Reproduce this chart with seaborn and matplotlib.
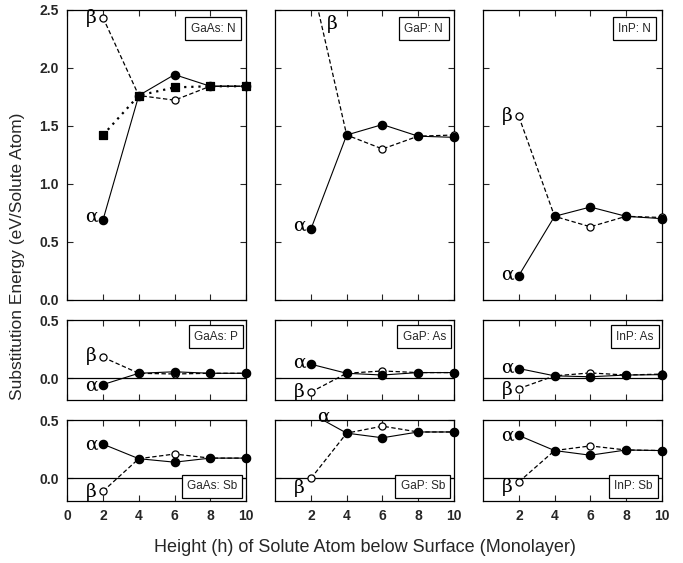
import numpy as np
import matplotlib
matplotlib.use("Agg")
import matplotlib.pyplot as plt
import seaborn as sns

# --- Data ---
heights = [2, 4, 6, 8, 10]

gaas_n_alpha = [0.69, 1.76, 1.94, 1.84, 1.84]
gaas_n_beta = [2.43, 1.76, 1.72, 1.84, 1.84]
gaas_n_square = [1.42, 1.76, 1.83, 1.84, 1.84]
gap_n_alpha = [0.61, 1.42, 1.51, 1.41, 1.40]
gap_n_beta = [2.77, 1.42, 1.30, 1.41, 1.42]
inp_n_alpha = [0.21, 0.72, 0.80, 0.72, 0.70]
inp_n_beta = [1.58, 0.72, 0.63, 0.72, 0.71]

gaas_p_alpha = [-0.055, 0.042, 0.055, 0.042, 0.042]
gaas_p_beta = [0.18, 0.042, 0.036, 0.042, 0.042]
gap_as_alpha = [0.12, 0.042, 0.027, 0.048, 0.048]
gap_as_beta = [-0.12, 0.042, 0.062, 0.048, 0.048]
inp_as_alpha = [0.083, 0.02, 0.012, 0.027, 0.03]
inp_as_beta = [-0.09, 0.02, 0.045, 0.027, 0.035]

gaas_sb_alpha = [0.295, 0.17, 0.14, 0.175, 0.175]
gaas_sb_beta = [-0.11, 0.17, 0.21, 0.175, 0.175]
gap_sb_alpha = [0.56, 0.39, 0.35, 0.40, 0.40]
gap_sb_beta = [0.0, 0.39, 0.45, 0.40, 0.40]
inp_sb_alpha = [0.37, 0.24, 0.20, 0.245, 0.24]
inp_sb_beta = [-0.03, 0.24, 0.28, 0.245, 0.24]

panel_names = ["GaAs: N", "GaP: N", "InP: N",
               "GaAs: P", "GaP: As", "InP: As",
               "GaAs: Sb", "GaP: Sb", "InP: Sb"]
alpha_series = [gaas_n_alpha, gap_n_alpha, inp_n_alpha,
                gaas_p_alpha, gap_as_alpha, inp_as_alpha,
                gaas_sb_alpha, gap_sb_alpha, inp_sb_alpha]
beta_series = [gaas_n_beta, gap_n_beta, inp_n_beta,
               gaas_p_beta, gap_as_beta, inp_as_beta,
               gaas_sb_beta, gap_sb_beta, inp_sb_beta]

# --- Style ---
sns.set_style("ticks")
plt.rcParams["font.family"] = ["Liberation Sans", "DejaVu Sans"]
plt.rcParams["xtick.direction"] = "in"
plt.rcParams["ytick.direction"] = "in"

fig = plt.figure(figsize=(6.83, 5.63), dpi=100)
gs = fig.add_gridspec(3, 3, height_ratios=[2.5, 0.69, 0.69],
                      left=0.0985, right=0.969, top=0.983, bottom=0.111,
                      wspace=0.163, hspace=0.134)

greek = dict(fontsize=13.5, family=["DejaVu Serif"], color="k")

# label positions for the alpha / beta tags (x, y) per panel
alpha_pos = [(1.35, 0.72), (1.35, 0.64), (1.35, 0.22),
             (1.35, -0.06), (1.35, 0.13), (1.35, 0.09),
             (1.35, 0.29), (2.7, 0.535), (1.35, 0.37)]
beta_pos = [(1.35, 2.43), (3.2, 2.38), (1.35, 1.58),
            (1.35, 0.19), (1.35, -0.12), (1.35, -0.10),
            (1.35, -0.12), (1.35, -0.08), (1.35, -0.07)]
box_pos = [(0.94, 0.955, "top"), (0.94, 0.955, "top"), (0.94, 0.955, "top"),
           (0.955, 0.87, "top"), (0.955, 0.87, "top"), (0.955, 0.87, "top"),
           (0.95, 0.10, "bottom"), (0.95, 0.10, "bottom"), (0.95, 0.10, "bottom")]


def draw_series(ax, xs, ys, ymax, ls, lw, marker, ms, fc, z):
    # line clipped to the panel, markers allowed to sit on the frame
    sns.lineplot(x=xs, y=ys, ax=ax, color="k", lw=lw, linestyle=ls, zorder=z)
    keep = [k for k, v in enumerate(ys) if v <= ymax]
    sns.scatterplot(x=[xs[k] for k in keep], y=[ys[k] for k in keep], ax=ax,
                    marker=marker, s=ms, color=fc, edgecolor="k",
                    linewidth=0.9, zorder=z + 0.5, clip_on=False)


for i in range(9):
    row, col = divmod(i, 3)
    ax = fig.add_subplot(gs[row, col])
    ymax = 2.5 if row == 0 else 0.5

    draw_series(ax, heights, beta_series[i], ymax, (0, (3.5, 2)), 0.9,
                "o", 26, "white", 3)
    if i == 0:
        draw_series(ax, heights, gaas_n_square, ymax, (0, (1, 2.2)), 1.6,
                    "s", 36, "k", 4)
    draw_series(ax, heights, alpha_series[i], ymax, "-", 0.8,
                "o", 36, "k", 5)

    ax.set_xlim(0, 10)
    ax.set_xticks([2, 4, 6, 8, 10] if col else [0, 2, 4, 6, 8, 10])
    if row == 0:
        ax.set_ylim(0, 2.5)
        ax.set_yticks(np.arange(0, 2.51, 0.5))
    else:
        ax.set_ylim(-0.19, 0.5)
        ax.set_yticks([0.0, 0.5])
        ax.axhline(0, color="k", lw=0.9, zorder=1)

    ax.tick_params(top=True, right=True, length=4, width=0.8,
                   labelsize=10, pad=6)
    if col == 0:
        ax.set_yticklabels([f"{v:.1f}" for v in ax.get_yticks()],
                           fontweight="bold")
    else:
        ax.set_yticklabels([])
    if row < 2:
        ax.set_xticklabels([])
    else:
        ax.set_xticklabels([str(t) for t in ax.get_xticks()],
                           fontweight="bold")
    for s in ax.spines.values():
        s.set_linewidth(0.9)
        s.set_color("k")

    ax.text(*alpha_pos[i], "α", ha="center", va="center",
            clip_on=False, **greek)
    ax.text(*beta_pos[i], "β", ha="center", va="center",
            clip_on=False, **greek)

    bx, by, bva = box_pos[i]
    ax.text(bx, by, panel_names[i], transform=ax.transAxes,
            ha="right", va=bva, fontsize=8.5, zorder=6,
            bbox=dict(boxstyle="square,pad=0.45", fc="white",
                      ec="k", lw=0.9))

fig.text(0.026, 0.545, "Substitution Energy (eV/Solute Atom)",
         rotation=90, ha="center", va="center", fontsize=12.5)
fig.text(0.535, 0.027, "Height (h) of Solute Atom below Surface (Monolayer)",
         ha="center", va="center", fontsize=13)

fig.savefig("out.png", dpi=100)
